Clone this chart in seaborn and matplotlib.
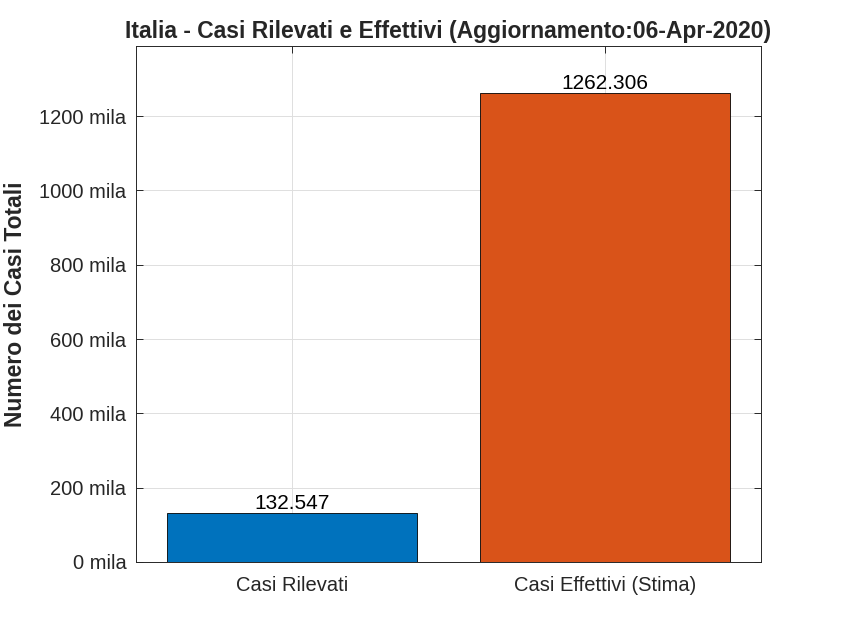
import matplotlib
matplotlib.use("Agg")
import matplotlib.pyplot as plt
import seaborn as sns
import pandas as pd

categories = ["Casi Rilevati", "Casi Effettivi (Stima)"]
values = [132.547, 1262.306]
bar_colors = ["#0072BD", "#D95319"]
yticks = [0, 200, 400, 600, 800, 1000, 1200]
ytick_labels = [f"{v} mila" for v in yticks]
title = "Italia - Casi Rilevati e Effettivi (Aggiornamento:06-Apr-2020)"
ylabel = "Numero dei Casi Totali"

sns.set_style("white")
plt.rcParams['font.family'] = ['Liberation Sans', 'DejaVu Sans']

df = pd.DataFrame({"cat": categories, "val": values})

fig = plt.figure(figsize=(8.41, 6.3), dpi=100)
ax = fig.add_axes([0.1617, 0.108, 0.905 - 0.1617, 0.927 - 0.108])
sns.barplot(data=df, x="cat", y="val", hue="cat", palette=bar_colors, saturation=1,
            width=0.8, edgecolor="black", linewidth=0.6, legend=False, ax=ax, zorder=3)

ax.set_xlim(-0.5, 1.5)
ax.set_ylim(0, 1.1 * max(values))
ax.set_yticks(yticks)
ax.set_yticklabels(ytick_labels)
ax.grid(True, color="#dedede", linewidth=0.7, zorder=0)
ax.set_axisbelow(True)
for s in ax.spines.values():
    s.set_color("#262626")
    s.set_linewidth(0.7)
    s.set_visible(True)
ax.tick_params(axis="both", direction="in", length=5, width=0.7, color="#262626",
               labelsize=14.5, labelcolor="#262626", top=True, right=True, left=True, bottom=True)
ax.tick_params(axis="x", pad=10)
ax.tick_params(axis="y", pad=7)
ax.set_xlabel("")
ax.set_ylabel(ylabel, fontsize=16.5, fontweight="bold", labelpad=9)
ax.set_title(title, fontsize=16.5, fontweight="bold", pad=6)

for i, v in enumerate(values):
    ax.text(i, v, f"{v:.3f}", ha="center", va="bottom", fontsize=15, color="black")

fig.savefig("out.png", dpi=100)
